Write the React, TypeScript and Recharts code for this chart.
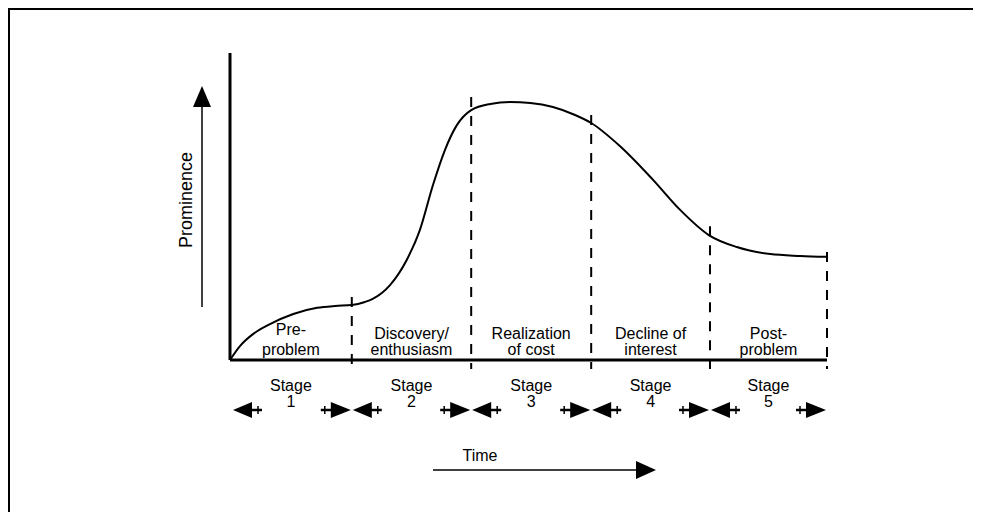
import { Line, LineChart, ReferenceLine, XAxis, YAxis } from "recharts";

// time runs 0..100 along the stages, prominence 0..100 up the axis
const time = [0, 1.7, 3.9, 6.7, 10.6, 14.6, 17.6, 20.4, 22.6, 23.9, 26.8, 29.6, 31.8, 34, 36, 38, 40.4, 43.6, 46.9, 50.3, 54.1, 57.8, 60.5, 65.3, 70.9, 75.4, 80.2, 84.9, 90.5, 95.5, 100];
const prominence = [0, 4.6, 8.5, 11.7, 15, 17, 17.6, 17.9, 18.9, 19.9, 24.4, 32.6, 42.3, 57, 68.4, 76.5, 81.4, 83.4, 84, 83.7, 82.4, 79.8, 77.2, 69.7, 58.6, 48.9, 40.7, 36.8, 34.5, 33.9, 33.6];

const stageBounds = [0, 20.4, 40.4, 60.5, 80.4, 100];
const stageNames = [["Pre-", "problem"], ["Discovery/", "enthusiasm"], ["Realization", "of cost"], ["Decline of", "interest"], ["Post-", "problem"]];
const stageNumbers = ["1", "2", "3", "4", "5"];
// where each dashed divider starts (just above the curve) and ends (below the axis)
const dividerTops = [20.5, 85.7, 79.8, 43.6, 35.2];
const dividerBottom = -2.9;

const stageMids = stageBounds.slice(1).map((b, i) => (stageBounds[i] + b) / 2);
const rows = time.map((t, i) => ({ t, p: prominence[i] }));
const FONT = '"Liberation Sans", Arial, Helvetica, sans-serif';

function LeftArrow({ x, y }: { x: number; y: number }) {
  return (
    <g>
      <polygon points={`${x},${y} ${x + 19},${y - 8} ${x + 19},${y + 8}`} fill="#000" />
      <line x1={x + 18} y1={y} x2={x + 29} y2={y} stroke="#000" strokeWidth={2.5} />
      <line x1={x + 25} y1={y - 4} x2={x + 25} y2={y + 4} stroke="#000" strokeWidth={1.5} />
    </g>
  );
}

function RightArrow({ x, y }: { x: number; y: number }) {
  return (
    <g>
      <polygon points={`${x},${y} ${x - 20},${y - 8} ${x - 20},${y + 8}`} fill="#000" />
      <line x1={x - 19} y1={y} x2={x - 30} y2={y} stroke="#000" strokeWidth={2.5} />
      <line x1={x - 26} y1={y - 4} x2={x - 26} y2={y + 4} stroke="#000" strokeWidth={1.5} />
    </g>
  );
}

function StageTick(props: any) {
  const { x, y, payload } = props;
  const v = payload.value;
  const bi = stageBounds.indexOf(v);
  if (bi >= 0) {
    const ay = y + 50;
    return (
      <g>
        {bi > 0 && <RightArrow x={x - 1} y={ay} />}
        {bi < stageBounds.length - 1 && <LeftArrow x={x + (bi === 0 ? 3 : 1)} y={ay} />}
      </g>
    );
  }
  const si = stageMids.indexOf(v);
  if (si < 0) return <g />;
  const [a, b] = stageNames[si];
  return (
    <g fontFamily={FONT} fill="#000" textAnchor="middle" fontSize={16}>
      <text x={x} y={y + (si === 0 ? -25 : -21)}>{a}</text>
      <text x={x} y={y - 5}>{b}</text>
      <text x={x} y={y + 31}>Stage</text>
      <text x={x} y={y + 47}>{stageNumbers[si]}</text>
    </g>
  );
}

function TimeLabel(props: any) {
  const vb = props.viewBox || { x: 220, y: 350, width: 597, height: 150 };
  const cx = vb.x + 250;
  const ly = vb.y + 110;
  return (
    <g>
      <text x={cx} y={vb.y + 101} textAnchor="middle" fontFamily={FONT} fontSize={16} fill="#000">Time</text>
      <line x1={vb.x + 203} y1={ly} x2={vb.x + 410} y2={ly} stroke="#000" strokeWidth={1.5} />
      <polygon points={`${vb.x + 426},${ly} ${vb.x + 406},${ly - 9} ${vb.x + 406},${ly + 9}`} fill="#000" />
    </g>
  );
}

function ProminenceLabel(props: any) {
  const vb = props.viewBox || { x: 0, y: 43, width: 220, height: 307 };
  const tx = vb.x + vb.width - 44;
  const ty = vb.y + 147;
  const ax = vb.x + vb.width - 28;
  return (
    <g>
      <text x={tx} y={ty} transform={`rotate(-90, ${tx}, ${ty})`} textAnchor="middle" dominantBaseline="central"
            fontFamily={FONT} fontSize={18} fill="#000">Prominence</text>
      <line x1={ax} y1={vb.y + 254} x2={ax} y2={vb.y + 52} stroke="#000" strokeWidth={1.5} />
      <polygon points={`${ax},${vb.y + 33} ${ax - 9},${vb.y + 54} ${ax + 9},${vb.y + 54}`} fill="#000" />
    </g>
  );
}

export default function App() {
  const ticks = [...stageBounds, ...stageMids].sort((a, b) => a - b);
  return (
    <div style={{ width: 971, height: 518, borderTop: "2px solid #000", borderLeft: "2px solid #000", marginBottom: -16, background: "#fff" }}>
      <LineChart width={970} height={518} data={rows} margin={{ top: 43, right: 153, bottom: 18, left: 0 }}>
        <XAxis dataKey="t" type="number" domain={[0, 100]} ticks={ticks} interval={0} tickLine={false}
               tickSize={0} tickMargin={0} height={150} axisLine={{ stroke: "#000", strokeWidth: 3 }}
               tick={(p: any) => <StageTick {...p} />} label={<TimeLabel />} />
        <YAxis type="number" domain={[0, 100]} width={220} tick={false} tickLine={false}
               axisLine={{ stroke: "#000", strokeWidth: 3 }} label={<ProminenceLabel />} />
        {stageBounds.slice(1).map((b, i) => (
          <ReferenceLine key={b} segment={[{ x: b, y: dividerTops[i] }, { x: b, y: dividerBottom }]} ifOverflow="visible"
                         stroke="#000" strokeWidth={2} strokeDasharray="10 9" />
        ))}
        <Line type="monotone" dataKey="p" stroke="#000" strokeWidth={2} dot={false} isAnimationActive={false} />
      </LineChart>
    </div>
  );
}
